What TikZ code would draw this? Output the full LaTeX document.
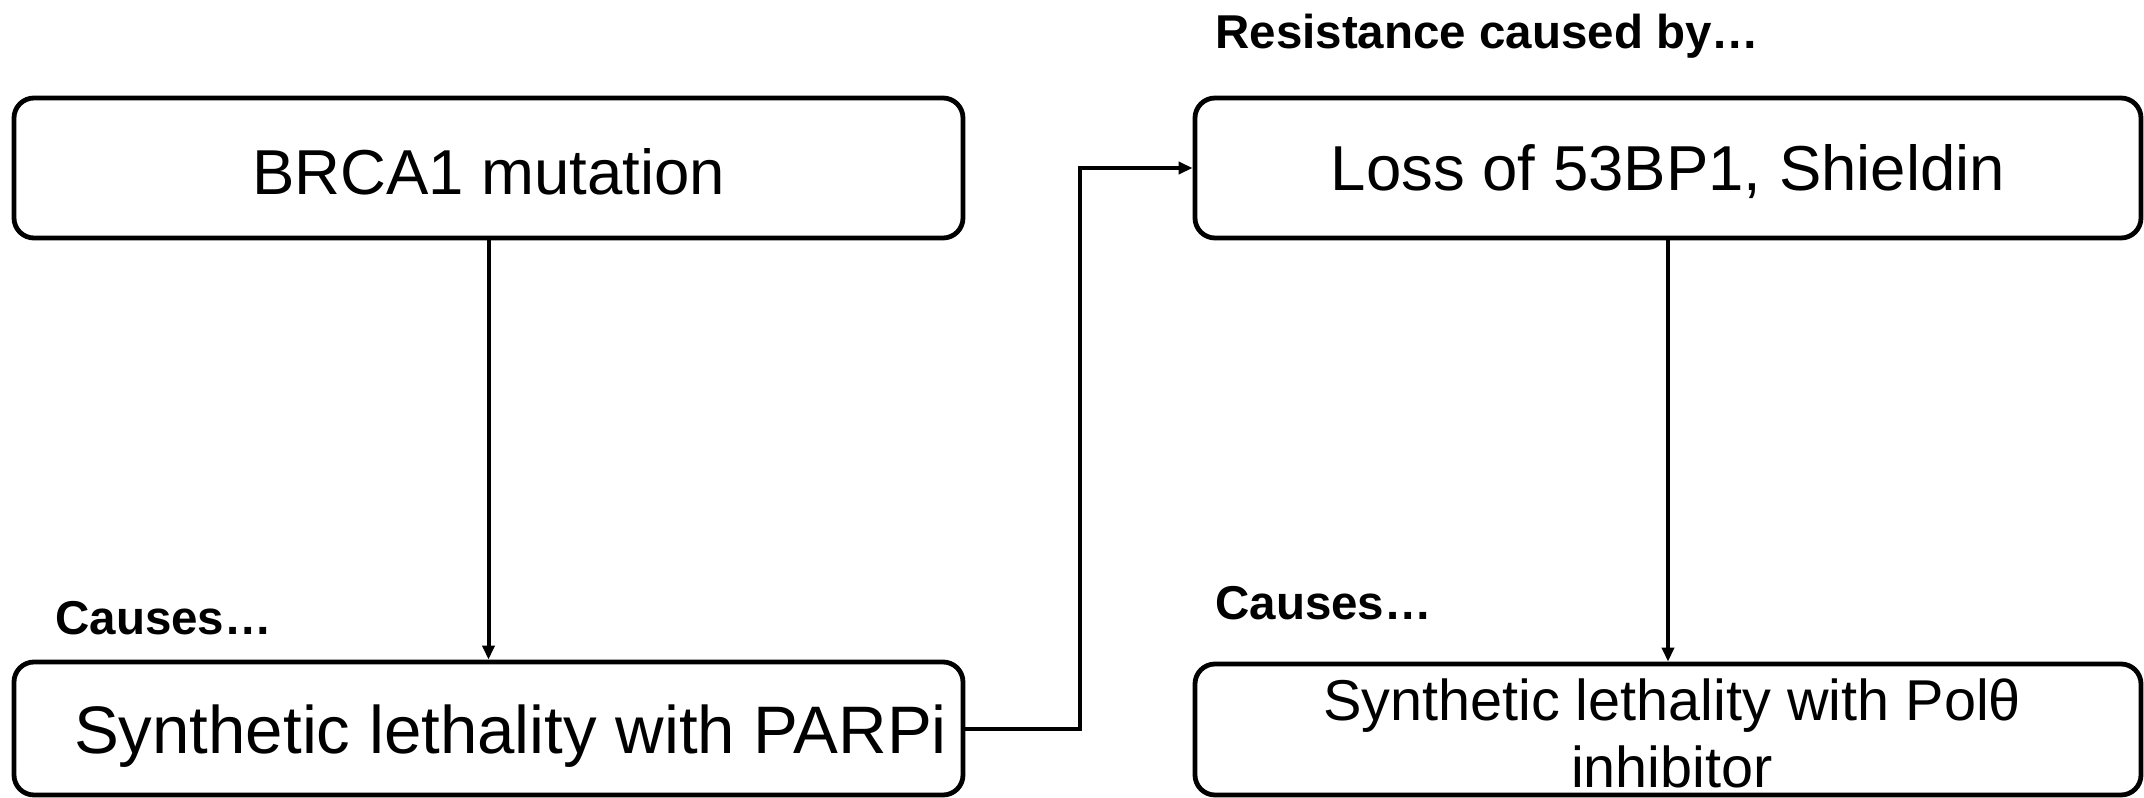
\documentclass[tikz,border=0pt]{standalone}
\usepackage{fontspec}
\setmainfont{Liberation Sans}
\usetikzlibrary{arrows.meta}
\begin{document}
\begin{tikzpicture}[x=0.5pt,y=-0.5pt,
  box/.style={draw=black, line width=2.4pt, rounded corners=10pt, fill=white,
    inner sep=0pt},
  wideA/.style={minimum width=474.5pt},
  wideC/.style={minimum width=473pt},
  boxtext/.style={inner sep=0pt, align=center},
  heading/.style={anchor=base west, inner sep=0pt,
    font=\fontsize{23.75pt}{28pt}\selectfont\bfseries},
  link/.style={draw=black, line width=2pt,
    -{Triangle[length=7pt,width=6pt]}}]
\useasboundingbox (0,0) rectangle (2144,798);

% left column
\node[box, wideA, minimum height=70pt] (brca) at (488.5,168) {};
\node[box, wideA, minimum height=66.5pt] (parp) at (488.5,728.5) {};
\node[boxtext, font=\fontsize{31.75pt}{33.5pt}\selectfont]
  (brcatext) at ([yshift=-2pt]brca.center) {BRCA1 mutation};
\node[boxtext, font=\fontsize{33.6pt}{35pt}\selectfont]
  (parptext) at ([xshift=11pt,yshift=-4pt]parp.center) {Synthetic lethality with PARPi};

% right column
\node[box, wideC, minimum height=70pt] (loss) at (1668,168) {};
\node[box, wideC, minimum height=65.5pt] (polq) at (1668,729.5) {};
\node[boxtext, font=\fontsize{31.75pt}{33.5pt}\selectfont]
  (losstext) at ([yshift=-2pt]loss.center) {Loss of 53BP1, Shieldin};
\node[boxtext, font=\fontsize{28.8pt}{33.5pt}\selectfont]
  (polqtext) at ([xshift=2pt,yshift=-2pt]polq.center) {Synthetic lethality with Polθ\\inhibitor};

% headings
\node[heading] (res) at (1215,48) {Resistance caused by…};
\node[heading] (causesL) at (55,634) {Causes…};
\node[heading] (causesR) at (1215,619) {Causes…};

% connectors
\coordinate (mid) at (1080,0);
\draw[link] (brca.south) -- (parp.north);
\draw[link] (loss.south) -- (polq.north);
\draw[link] (parp.east) -- (parp.east -| mid) -- (mid |- loss.west) -- (loss.west);
\end{tikzpicture}
\end{document}
